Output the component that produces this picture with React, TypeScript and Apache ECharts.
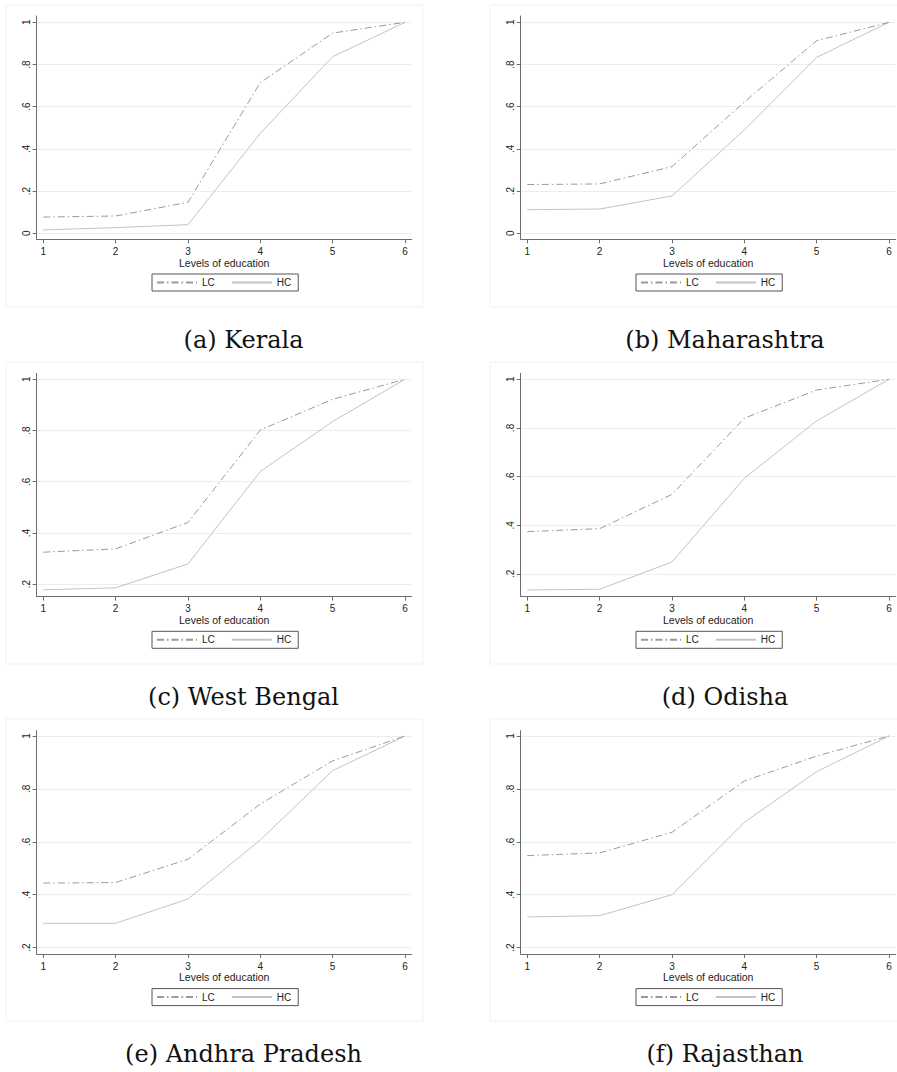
import React, { useEffect, useRef } from "react";
import * as echarts from "echarts";

// ---------- data ----------
const levels = [1, 2, 3, 4, 5, 6];
const xTickLabels = ["1", "2", "3", "4", "5", "6"];

const stateNames = ["Kerala", "Maharashtra", "West Bengal", "Odisha", "Andhra Pradesh", "Rajasthan"];
const captionLetters = ["a", "b", "c", "d", "e", "f"];

const lcKerala = [0.077, 0.082, 0.147, 0.714, 0.949, 1];
const hcKerala = [0.016, 0.027, 0.041, 0.474, 0.837, 1];
const lcMaharashtra = [0.231, 0.234, 0.316, 0.622, 0.913, 1];
const hcMaharashtra = [0.112, 0.115, 0.177, 0.49, 0.834, 1];
const lcWestBengal = [0.325, 0.338, 0.441, 0.802, 0.922, 1];
const hcWestBengal = [0.178, 0.186, 0.279, 0.64, 0.835, 1];
const lcOdisha = [0.374, 0.386, 0.527, 0.84, 0.956, 1];
const hcOdisha = [0.134, 0.137, 0.249, 0.593, 0.829, 1];
const lcAndhra = [0.444, 0.446, 0.534, 0.743, 0.906, 1];
const hcAndhra = [0.292, 0.292, 0.384, 0.607, 0.869, 1];
const lcRajasthan = [0.548, 0.558, 0.636, 0.83, 0.924, 1];
const hcRajasthan = [0.316, 0.321, 0.4, 0.674, 0.865, 1];

const lcSeries = [lcKerala, lcMaharashtra, lcWestBengal, lcOdisha, lcAndhra, lcRajasthan];
const hcSeries = [hcKerala, hcMaharashtra, hcWestBengal, hcOdisha, hcAndhra, hcRajasthan];

const yTicksFull = [0, 0.2, 0.4, 0.6, 0.8, 1];
const yTickLabelsFull = ["0", ".2", ".4", ".6", ".8", "1"];
const yTicksShort = [0.2, 0.4, 0.6, 0.8, 1];
const yTickLabelsShort = [".2", ".4", ".6", ".8", "1"];

// ---------- layout ----------
const colLeft = [36.7, 520.7];
const rowTop = [16, 373.3, 730.7];
const gridW = 375;
const gridH = 223.3;
const xRange = [0.909, 6.093];
const yRanges = [
  [-0.0284, 1.03],
  [-0.0284, 1.03],
  [0.1516, 1.0234],
  [0.1068, 1.0247],
  [0.176, 1.02],
  [0.176, 1.02],
];
const legendLeft = [152, 636];
const legendTop = [274, 631.3, 988.6];
const captionX = [243.5, 725];
const captionY = [340, 697, 1054];
const bgLeft = [6, 490];
const bgTop = [5, 362, 719];

const LC_COLOR = "#9a9a9a";
const HC_COLOR = "#c2c2c2";
const AXIS_COLOR = "#6e6e6e";
const GRID_COLOR = "#e6eff1";
const SANS = "'Liberation Sans', Arial, sans-serif";

export default function App() {
  const ref = useRef<HTMLDivElement>(null);

  useEffect(() => {
    if (!ref.current) return;
    const chart = echarts.init(ref.current, undefined, { renderer: "svg" });

    const grids: any[] = [];
    const xAxes: any[] = [];
    const yAxes: any[] = [];
    const series: any[] = [];
    const legends: any[] = [];
    const graphics: any[] = [];

    for (let i = 0; i < 6; i++) {
      const col = i % 2;
      const row = Math.floor(i / 2);
      const full = i < 2;
      const yTicks = full ? yTicksFull : yTicksShort;
      const yLabels = full ? yTickLabelsFull : yTickLabelsShort;

      grids.push({
        left: colLeft[col],
        top: rowTop[row],
        width: gridW,
        height: gridH,
        containLabel: false,
      });

      xAxes.push({
        gridIndex: i,
        type: "value",
        min: xRange[0],
        max: xRange[1],
        name: "Levels of education",
        nameLocation: "middle",
        nameGap: 17,
        nameTextStyle: { fontSize: 10.5, color: "#222", fontFamily: SANS },
        axisLine: { show: true, onZero: false, lineStyle: { color: AXIS_COLOR, width: 1 } },
        axisTick: { show: true, length: 4, customValues: levels, lineStyle: { color: AXIS_COLOR } },
        axisLabel: {
          customValues: levels,
          fontSize: 10,
          color: "#222",
          fontFamily: SANS,
          margin: 7,
          formatter: (v: number) => {
            const k = levels.indexOf(Math.round(v));
            return k >= 0 ? xTickLabels[k] : "";
          },
        },
        splitLine: { show: false },
      });

      yAxes.push({
        gridIndex: i,
        type: "value",
        min: yRanges[i][0],
        max: yRanges[i][1],
        axisLine: { show: true, onZero: false, lineStyle: { color: AXIS_COLOR, width: 1 } },
        axisTick: { show: true, length: 4, customValues: yTicks, lineStyle: { color: AXIS_COLOR } },
        axisLabel: {
          customValues: yTicks,
          rotate: 90,
          fontSize: 10,
          color: "#222",
          fontFamily: SANS,
          margin: 5,
          formatter: (v: number) => {
            const k = yTicks.findIndex((t) => Math.abs(t - v) < 1e-6);
            return k >= 0 ? yLabels[k] : "";
          },
        },
        splitLine: { show: true, lineStyle: { color: GRID_COLOR, width: 1 } },
      });

      series.push({
        name: "LC",
        type: "line",
        xAxisIndex: i,
        yAxisIndex: i,
        symbol: "none",
        data: levels.map((x, j) => [x, lcSeries[i][j]]),
        lineStyle: { color: LC_COLOR, width: 1, type: [7, 3, 1.5, 3] },
        itemStyle: { color: LC_COLOR },
        z: 3,
      });
      series.push({
        name: "HC",
        type: "line",
        xAxisIndex: i,
        yAxisIndex: i,
        symbol: "none",
        data: levels.map((x, j) => [x, hcSeries[i][j]]),
        lineStyle: { color: HC_COLOR, width: 1, type: "solid" },
        itemStyle: { color: HC_COLOR },
        z: 2,
      });

      legends.push({
        left: legendLeft[col],
        top: legendTop[row],
        orient: "horizontal",
        data: ["LC", "HC"],
        itemWidth: 40,
        itemHeight: 11,
        itemGap: 16,
        padding: [3.5, 7, 3.5, 4],
        borderColor: "#555",
        borderWidth: 1,
        backgroundColor: "#fff",
        selectedMode: false,
        itemStyle: { opacity: 0, borderWidth: 0 },
        textStyle: { fontSize: 10, color: "#222", fontFamily: SANS },
      });

      graphics.push({
        type: "rect",
        shape: { x: bgLeft[col], y: bgTop[row], width: 417, height: 302 },
        style: { fill: "none", stroke: "#f1f1f1", lineWidth: 1 },
        silent: true,
        z: -10,
      });
      graphics.push({
        type: "text",
        x: captionX[col],
        y: captionY[row],
        style: {
          text: `(${captionLetters[i]}) ${stateNames[i]}`,
          font: "24px 'DejaVu Serif', 'Liberation Serif', serif",
          fill: "#111",
          textAlign: "center",
          textVerticalAlign: "middle",
        },
        silent: true,
      });
    }

    chart.setOption({
      animation: false,
      backgroundColor: "#ffffff",
      grid: grids,
      xAxis: xAxes,
      yAxis: yAxes,
      series,
      legend: legends,
      graphic: graphics,
    });

    return () => chart.dispose();
  }, []);

  return (
    <div
      ref={ref}
      style={{ position: "absolute", left: 0, top: 0, width: 897, height: 1072 }}
    />
  );
}
